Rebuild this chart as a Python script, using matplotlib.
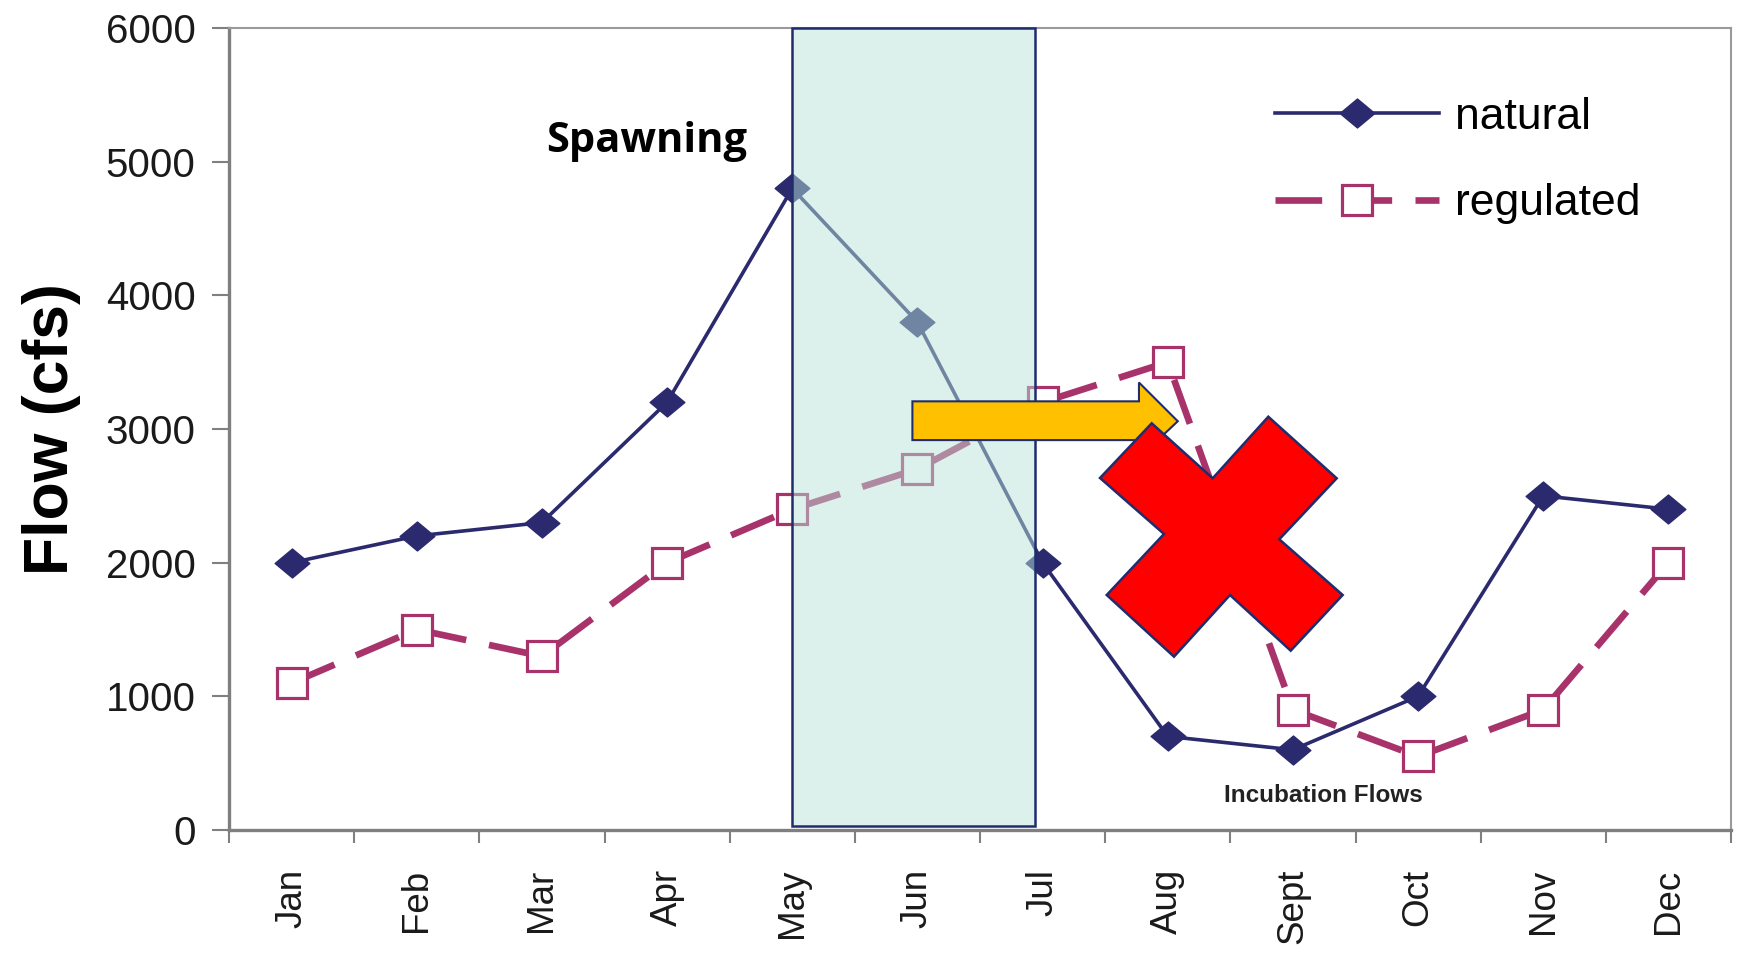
import matplotlib
matplotlib.use("Agg")
import matplotlib.pyplot as plt
from matplotlib.patches import Rectangle, Polygon
from matplotlib.path import Path

# Datos
meses = ["Jan", "Feb", "Mar", "Apr", "May", "Jun", "Jul", "Aug", "Sept", "Oct", "Nov", "Dec"]
natural = [2000, 2200, 2300, 3200, 4800, 3800, 2000, 700, 600, 1000, 2500, 2400]
regulado = [1100, 1500, 1300, 2000, 2400, 2700, 3200, 3500, 900, 550, 900, 2000]
y_ticks = [0, 1000, 2000, 3000, 4000, 5000, 6000]

NAVY = "#2b2a6e"
MAGENTA = "#a8336b"
EDGE = "#1f2d6e"

plt.rcParams['font.family'] = ['Liberation Sans', 'DejaVu Sans']

fig = plt.figure(figsize=(17.38, 9.6), dpi=100)
ax = fig.add_axes([229 / 1738, 1 - 830 / 960, (1731 - 229) / 1738, (830 - 28) / 960])

x = list(range(len(meses)))

# diamante algo ancho, como en la imagen original
diamante = Path([(-1.2, 0), (0, 1), (1.2, 0), (0, -1), (-1.2, 0)],
                [Path.MOVETO, Path.LINETO, Path.LINETO, Path.LINETO, Path.CLOSEPOLY])

ax.plot(x, natural, color=NAVY, lw=2.6, marker=diamante, markersize=25,
        markerfacecolor=NAVY, markeredgecolor=NAVY, label="natural", zorder=3)
ax.plot(x, regulado, color=MAGENTA, lw=4.8, dashes=(7, 3.5), marker="s", markersize=21.5,
        markerfacecolor="white", markeredgecolor=MAGENTA, markeredgewidth=2.3,
        label="regulated", zorder=4)

# Ventana de desove (sombreado encima de las lineas)
ax.add_patch(Rectangle((4.0, 33), 1.94, 5967, facecolor=(184/255, 228/255, 216/255, 0.49),
                       edgecolor=EDGE, lw=1.8, zorder=5, clip_on=False))

# Flecha amarilla
flecha = [(4.96, 2917), (6.77, 2917), (6.77, 2784), (7.08, 3058),
          (6.77, 3348), (6.77, 3207), (4.96, 3207)]
ax.add_patch(Polygon(flecha, closed=True, facecolor="#ffc000", edgecolor=EDGE, lw=1.5, zorder=6))

# Cruz roja (en pixeles de la figura)
cruz_px = [(1100, 478), (1151.7, 423.3), (1212.7, 478.3), (1268.3, 416.7), (1336.7, 478.3),
           (1279.3, 539.3), (1342.7, 595), (1290.7, 650.7), (1230, 595), (1174, 656.7),
           (1106.7, 595), (1164, 534)]
cruz = [(px / 1738, 1 - py / 960) for px, py in cruz_px]
fig.patches.append(Polygon(cruz, closed=True, transform=fig.transFigure, facecolor="#ff0000",
                           edgecolor=EDGE, lw=1.8, zorder=10))

ax.text(2.84, 5150, "Spawning", fontsize=30, fontweight="bold", family=["Open Sans", "DejaVu Sans"],
        ha="center", va="center", color="black", zorder=7)
ax.text(8.24, 257, "Incubation Flows", fontsize=17.5, fontweight="bold", ha="center", va="center",
        color="#222222", zorder=7)

ax.set_xlim(-0.5, 11.5)
ax.set_ylim(0, 6000)
ax.set_yticks(y_ticks)
ax.set_yticklabels([str(v) for v in y_ticks], fontsize=29, color="#1a1a1a")
ax.set_xticks(x)
ax.set_xticklabels(meses, rotation=90, fontsize=26.5, color="#1a1a1a")
ax.set_xticks([k - 0.5 for k in range(len(meses) + 1)], minor=True)
ax.tick_params(axis="x", which="major", length=0, pad=28)
ax.tick_params(axis="x", which="minor", length=9.5, width=1.5, color="#808080")
ax.tick_params(axis="y", length=12, width=1.5, color="#808080", pad=12)

ax.set_ylabel("Flow (cfs)", fontsize=45, fontweight="bold", labelpad=18)

for lado in ["left", "bottom"]:
    ax.spines[lado].set_color("#7f7f7f")
    ax.spines[lado].set_linewidth(2.4)
for lado in ["top", "right"]:
    ax.spines[lado].set_color("#9a9a9a")
    ax.spines[lado].set_linewidth(1.5)

ax.legend(loc="upper left", bbox_to_anchor=(1275 / 1738, 1 - 97 / 960), bbox_transform=fig.transFigure,
          frameon=False, fontsize=32, handlelength=3.7, handletextpad=0.36, labelspacing=1.02,
          borderpad=0, borderaxespad=0, numpoints=1)

plt.savefig("out.png", dpi=100)
